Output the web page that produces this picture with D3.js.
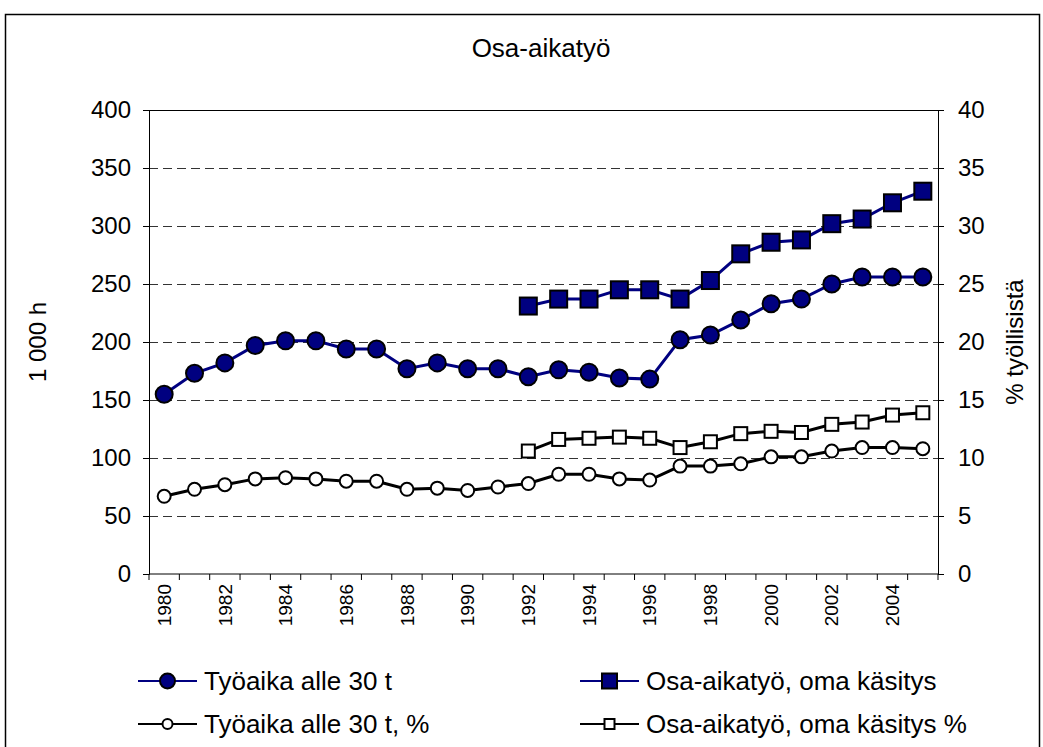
<!DOCTYPE html>
<meta charset="utf-8">
<style>
body { margin: 0; background: #fff; }
text { font-family: "Liberation Sans", Arial, sans-serif; fill: #000; }
</style>
<svg width="1043" height="747"></svg>
<script src="https://cdn.jsdelivr.net/npm/d3@7/dist/d3.min.js"></script>
<script>

var years = [1980, 1981, 1982, 1983, 1984, 1985, 1986, 1987, 1988, 1989, 1990, 1991, 1992,
             1993, 1994, 1995, 1996, 1997, 1998, 1999, 2000, 2001, 2002, 2003, 2004, 2005];
var yearLabels = [1980, 1982, 1984, 1986, 1988, 1990, 1992, 1994, 1996, 1998, 2000, 2002, 2004];

// 1 000 h (left axis)
var hours = [155, 173, 182, 197, 201, 201, 194, 194, 177, 182, 177, 177, 170,
             176, 174, 169, 168, 202, 206, 219, 233, 237, 250, 256, 256, 256];
var ownYears = [1992, 1993, 1994, 1995, 1996, 1997, 1998, 1999, 2000, 2001, 2002, 2003, 2004, 2005];
var own = [231, 237, 237, 245, 245, 237, 253, 276, 286, 288, 302, 306, 320, 330];

// % työllisistä (right axis)
var hoursPct = [6.7, 7.3, 7.7, 8.2, 8.3, 8.2, 8.0, 8.0, 7.3, 7.4, 7.2, 7.5, 7.8,
                8.6, 8.6, 8.2, 8.1, 9.3, 9.3, 9.5, 10.1, 10.1, 10.6, 10.9, 10.9, 10.8];
var ownPct = [10.6, 11.6, 11.7, 11.8, 11.7, 10.9, 11.4, 12.1, 12.3, 12.2, 12.9, 13.1, 13.7, 13.9];

var leftTicks = [0, 50, 100, 150, 200, 250, 300, 350, 400];
var rightTicks = [0, 5, 10, 15, 20, 25, 30, 35, 40];

var svg = d3.select("svg"),
    plotLeft = 149, plotRight = 938, plotTop = 110, plotBottom = 574;

var navy = "#000080";

var x = d3.scaleBand().domain(years).range([plotLeft, plotRight]).padding(0);
var y = d3.scaleLinear().domain([0, 400]).range([plotBottom, plotTop]);
var y2 = d3.scaleLinear().domain([0, 40]).range([plotBottom, plotTop]);
function cx(yr) { return x(yr) + x.bandwidth() / 2; }

// chart border
svg.append("rect")
    .attr("x", 5.5).attr("y", 14.5)
    .attr("width", 1034).attr("height", 760)
    .attr("fill", "none").attr("stroke", "#000").attr("stroke-width", 1.5);

svg.append("text")
    .attr("x", 541).attr("y", 57)
    .attr("text-anchor", "middle")
    .style("font-size", "26px")
    .text("Osa-aikatyö");

// grid lines
svg.append("g").selectAll("line")
  .data(leftTicks.filter(function(d) { return d > 0 && d < 400; }))
  .enter().append("line")
    .attr("x1", plotLeft).attr("x2", plotRight)
    .attr("y1", function(d) { return y(d) + 0.5; })
    .attr("y2", function(d) { return y(d) + 0.5; })
    .attr("stroke", "#333")
    .attr("stroke-dasharray", "9,5");

svg.append("line")
    .attr("x1", plotLeft).attr("x2", plotRight)
    .attr("y1", plotTop + 0.5).attr("y2", plotTop + 0.5)
    .attr("stroke", "#000");

// left axis
var yAxis = svg.append("g")
    .attr("transform", "translate(" + plotLeft + ",0)")
    .call(d3.axisLeft(y).tickValues(leftTicks).tickSize(6).tickPadding(12));
yAxis.selectAll("text").style("font-size", "24px");

// right axis
var y2Axis = svg.append("g")
    .attr("transform", "translate(" + plotRight + ",0)")
    .call(d3.axisRight(y2).tickValues(rightTicks).tickSize(6).tickPadding(14));
y2Axis.selectAll("text").style("font-size", "24px");

// x axis: ticks at category boundaries
var xAxis = svg.append("g").attr("transform", "translate(0," + plotBottom + ")");
xAxis.append("line")
    .attr("x1", plotLeft).attr("x2", plotRight)
    .attr("stroke", "#000");
xAxis.selectAll(".tk")
  .data(years.concat([null]))
  .enter().append("line")
    .attr("class", "tk")
    .attr("x1", function(d, i) { return plotLeft + i * x.bandwidth(); })
    .attr("x2", function(d, i) { return plotLeft + i * x.bandwidth(); })
    .attr("y1", 0).attr("y2", 6)
    .attr("stroke", "#000");
xAxis.selectAll(".lbl")
  .data(yearLabels)
  .enter().append("text")
    .attr("class", "lbl")
    .attr("transform", function(d) { return "translate(" + cx(d) + ",10) rotate(-90)"; })
    .attr("text-anchor", "end")
    .attr("dy", "0.35em")
    .style("font-size", "19px")
    .text(function(d) { return d; });

// axis titles
svg.append("text")
    .attr("transform", "translate(38," + (plotTop + plotBottom) / 2 + ") rotate(-90)")
    .attr("text-anchor", "middle")
    .attr("dy", "0.35em")
    .style("font-size", "24px")
    .text("1 000 h");

svg.append("text")
    .attr("transform", "translate(1015," + (plotTop + plotBottom) / 2 + ") rotate(-90)")
    .attr("text-anchor", "middle")
    .attr("dy", "0.35em")
    .style("font-size", "24px")
    .text("% työllisistä");

// series
var series = [
  {name: "Työaika alle 30 t", xs: years, vals: hours, scale: y, color: navy, fill: navy, shape: "circle", size: 8.5},
  {name: "Osa-aikatyö, oma käsitys", xs: ownYears, vals: own, scale: y, color: navy, fill: navy, shape: "square", size: 8.5},
  {name: "Työaika alle 30 t, %", xs: years, vals: hoursPct, scale: y2, color: "#000", fill: "#fff", shape: "circle", size: 6.5},
  {name: "Osa-aikatyö, oma käsitys %", xs: ownYears, vals: ownPct, scale: y2, color: "#000", fill: "#fff", shape: "square", size: 6.5}
];

function marker(sel, s, r) {
  if (s.shape === "circle") {
    sel.append("circle").attr("r", r);
  } else {
    sel.append("rect").attr("x", -r).attr("y", -r).attr("width", 2 * r).attr("height", 2 * r);
  }
  sel.selectAll("circle, rect")
      .attr("fill", s.fill)
      .attr("stroke", "#000")
      .attr("stroke-width", 2);
}

var line = d3.line();

// white-marker series first, navy on top
[2, 3, 0, 1].forEach(function(k) {
  var s = series[k];
  var pts = s.vals.map(function(v, i) { return [cx(s.xs[i]), s.scale(v)]; });
  svg.append("path")
      .attr("d", line(pts))
      .attr("fill", "none")
      .attr("stroke", s.color)
      .attr("stroke-width", 3);
  svg.append("g").selectAll("g")
    .data(pts)
    .enter().append("g")
      .attr("transform", function(d) { return "translate(" + d[0] + "," + d[1] + ")"; })
      .each(function() { marker(d3.select(this), s, s.size); });
});

// legend
var legendPos = [[138, 681], [580, 681], [138, 724], [580, 724]];
series.forEach(function(s, i) {
  var g = svg.append("g").attr("transform", "translate(" + legendPos[i][0] + "," + legendPos[i][1] + ")");
  g.append("line")
      .attr("x1", 0).attr("x2", 59)
      .attr("stroke", s.color)
      .attr("stroke-width", 2);
  var m = g.append("g").attr("transform", "translate(29.5,0)");
  marker(m, s, i < 2 ? 7.5 : 5);
  g.append("text")
      .attr("x", 66)
      .attr("dy", "0.35em")
      .style("font-size", "26px")
      .text(s.name);
});

</script>
